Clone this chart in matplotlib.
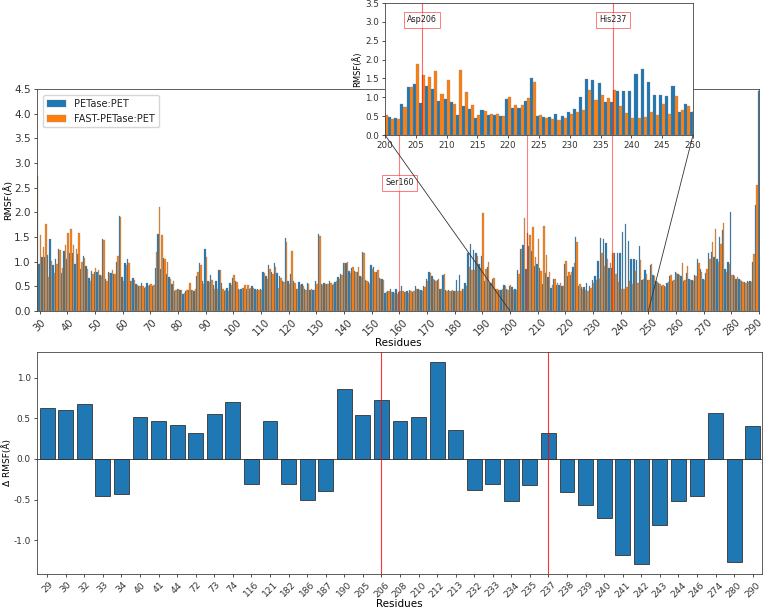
import numpy as np
import matplotlib.pyplot as plt
import matplotlib.transforms as mtransforms
from matplotlib.patches import ConnectionPatch

# RMSF per residue (29..290)
residues = np.arange(29, 291)
petase = [
    2.11,
    0.95, 1.10, 1.10, 1.13, 1.45, 0.93, 1.05, 1.26, 0.78, 1.21,
    1.05, 1.18, 1.18, 0.95, 1.15, 0.85, 1.12, 0.91, 0.67, 0.81,
    0.79, 0.79, 0.72, 1.46, 0.64, 0.80, 0.78, 0.76, 1.00, 1.93,
    0.68, 0.97, 1.05, 0.61, 0.66, 0.55, 0.50, 0.56, 0.46, 0.56,
    0.52, 0.50, 0.87, 1.56, 0.86, 1.08, 0.75, 0.68, 0.55, 0.40,
    0.44, 0.42, 0.35, 0.40, 0.43, 0.43, 0.40, 0.71, 0.97, 0.61,
    1.26, 0.60, 0.73, 0.52, 0.60, 0.83, 0.56, 0.40, 0.46, 0.56,
    0.67, 0.60, 0.44, 0.45, 0.47, 0.44, 0.44, 0.51, 0.45, 0.44,
    0.44, 0.80, 0.70, 0.93, 0.80, 0.97, 0.78, 0.70, 0.60, 1.47,
    0.60, 0.74, 0.60, 0.45, 0.58, 0.55, 0.45, 0.57, 0.42, 0.42,
    0.60, 1.57, 0.55, 0.57, 0.55, 0.60, 0.52, 0.58, 0.68, 0.75,
    0.98, 0.98, 0.82, 0.87, 0.82, 0.80, 0.70, 1.20, 0.62, 0.58,
    0.93, 0.90, 0.80, 0.66, 0.65, 0.36, 0.40, 0.45, 0.38, 0.45,
    0.38, 0.50, 0.38, 0.40, 0.42, 0.38, 0.50, 0.45, 0.42, 0.50,
    0.65, 0.80, 0.70, 0.62, 0.63, 0.45, 0.73, 0.42, 0.42, 0.40,
    0.40, 0.62, 0.72, 0.45, 0.56, 1.17, 1.35, 1.23, 1.18, 0.95,
    1.12, 0.60, 0.90, 0.57, 0.65, 0.45, 0.43, 0.42, 0.52, 0.45,
    0.50, 0.48, 0.45, 0.83, 1.26, 1.34, 0.86, 1.31, 1.22, 0.91,
    0.95, 0.87, 0.54, 0.77, 0.69, 0.46, 0.65, 0.52, 0.52, 0.50,
    0.96, 0.71, 0.72, 0.90, 1.50, 0.51, 0.49, 0.49, 0.57, 0.50,
    0.62, 0.70, 1.02, 1.48, 1.45, 1.38, 0.87, 0.87, 1.17, 1.17,
    1.17, 1.61, 1.76, 1.41, 1.06, 1.06, 1.03, 1.31, 0.62, 0.83,
    0.62, 0.93, 0.73, 0.60, 0.56, 0.50, 0.50, 0.56, 0.70, 0.60,
    0.79, 0.75, 0.70, 0.60, 0.78, 0.65, 0.63, 0.72, 1.05, 0.85,
    0.65, 0.78, 1.17, 1.20, 1.10, 1.05, 1.50, 1.65, 0.85, 1.00,
    2.00, 0.72, 0.65, 0.65, 0.60, 0.58, 0.60, 0.60, 1.00, 2.15,
    4.45,
]
fast_petase = [
    2.73,
    1.55, 1.30, 1.77, 0.68, 1.02, 0.78, 0.95, 1.23, 0.87, 1.33,
    1.58, 1.66, 1.33, 1.25, 1.58, 1.00, 1.07, 0.85, 0.60, 0.75,
    0.87, 0.83, 0.70, 1.44, 0.60, 0.77, 0.84, 0.76, 1.12, 1.90,
    0.61, 0.93, 0.97, 0.61, 0.63, 0.52, 0.50, 0.50, 0.48, 0.50,
    0.55, 0.52, 1.20, 2.11, 1.55, 1.06, 1.00, 0.65, 0.61, 0.42,
    0.45, 0.43, 0.36, 0.42, 0.57, 0.42, 0.45, 0.80, 0.93, 0.55,
    1.10, 0.58, 0.62, 0.45, 0.45, 0.83, 0.45, 0.42, 0.40, 0.53,
    0.72, 0.58, 0.43, 0.46, 0.53, 0.53, 0.47, 0.47, 0.43, 0.42,
    0.42, 0.77, 0.65, 0.86, 0.75, 0.90, 0.47, 0.66, 0.58, 1.40,
    0.55, 1.22, 0.57, 0.45, 0.52, 0.50, 0.43, 0.55, 0.45, 0.42,
    0.55, 1.52, 0.53, 0.55, 0.55, 0.57, 0.55, 0.60, 0.65, 0.72,
    0.98, 1.00, 0.78, 0.90, 0.80, 0.90, 0.68, 1.17, 0.60, 0.55,
    0.85, 0.80, 0.83, 0.65, 0.63, 0.38, 0.40, 0.38, 0.36, 0.35,
    0.40, 0.41, 0.38, 0.37, 0.40, 0.40, 0.45, 0.42, 0.40, 0.48,
    0.60, 0.78, 0.65, 0.60, 0.65, 0.45, 0.75, 0.40, 0.40, 0.42,
    0.40, 0.40, 0.41, 0.45, 0.50, 0.90, 0.84, 0.84, 1.12, 0.88,
    1.98, 0.85, 1.00, 0.57, 0.67, 0.45, 0.43, 0.45, 0.50, 0.43,
    0.52, 0.43, 0.43, 0.75, 1.26, 1.88, 1.58, 1.54, 1.70, 1.09,
    1.45, 0.82, 1.73, 1.13, 0.79, 0.53, 0.64, 0.56, 0.56, 0.50,
    1.01, 0.80, 0.80, 0.97, 1.40, 0.54, 0.45, 0.43, 0.41, 0.46,
    0.57, 0.62, 0.65, 1.18, 0.92, 1.06, 0.97, 1.18, 0.76, 0.59,
    0.45, 0.44, 0.48, 0.60, 0.54, 0.82, 0.57, 1.03, 0.65, 0.76,
    0.63, 0.95, 0.70, 0.58, 0.55, 0.52, 0.48, 0.58, 0.73, 0.62,
    0.78, 0.72, 0.98, 0.62, 0.92, 0.63, 0.60, 0.70, 0.98, 0.80,
    0.62, 0.85, 1.05, 1.40, 1.66, 1.00, 1.35, 1.78, 0.80, 0.95,
    0.73, 0.70, 0.68, 0.62, 0.58, 0.56, 0.58, 0.58, 1.15, 2.55,
    4.85,
]

# delta RMSF (FAST-PETase - PETase) for selected residues
delta_res = ['29', '30', '32', '33', '34', '40', '41', '44', '72', '73', '74',
             '116', '121', '182', '186', '187', '190', '205', '206', '208',
             '210', '212', '213', '232', '233', '234', '235', '237', '238',
             '239', '240', '241', '242', '243', '244', '246', '274', '280', '290']
delta_rmsf = [0.62, 0.60, 0.68, -0.45, -0.43, 0.52, 0.47, 0.42, 0.32, 0.55, 0.70,
              -0.31, 0.47, -0.31, -0.51, -0.39, 0.86, 0.54, 0.73, 0.47,
              0.51, 1.19, 0.36, -0.38, -0.31, -0.52, -0.32, 0.32, -0.41,
              -0.57, -0.72, -1.18, -1.29, -0.81, -0.52, -0.45, 0.56, -1.27, 0.40]

key_sites = {'Ser160': 160, 'Asp206': 206, 'His237': 237}

plt.rcParams['font.size'] = 7.5
plt.rcParams['axes.linewidth'] = 0.6
plt.rcParams['axes.edgecolor'] = '#444444'
plt.rcParams['axes.unicode_minus'] = False
plt.rcParams['xtick.major.width'] = 0.6
plt.rcParams['ytick.major.width'] = 0.6
plt.rcParams['xtick.major.size'] = 2.5
plt.rcParams['ytick.major.size'] = 2.5
plt.rcParams['xtick.major.pad'] = 2
plt.rcParams['ytick.major.pad'] = 2
plt.rcParams['text.color'] = '#222222'
plt.rcParams['xtick.color'] = '#333333'
plt.rcParams['ytick.color'] = '#333333'

W, H, DPI = 766, 609, 100
fig = plt.figure(figsize=(W / DPI, H / DPI), dpi=DPI)

blue = '#1f77b4'
orange = '#ff7f0e'

def draw_bars(ax):
    ax.bar(residues - 0.25, petase, width=0.5, color=blue, edgecolor='grey',
           linewidth=0.2, label='PETase:PET')
    ax.bar(residues + 0.25, fast_petase, width=0.5, color=orange, edgecolor='grey',
           linewidth=0.2, label='FAST-PETase:PET')

# main panel
ax = fig.add_axes([37 / W, 1 - 311 / H, 722 / W, 222 / H])
draw_bars(ax)
ax.set_xlim(29, 290)
ax.set_ylim(0, 4.5)
ax.set_xticks(np.arange(30, 291, 10))
ax.tick_params(axis='x', labelrotation=45, labelsize=7.2)
# keep the last rotated label inside the canvas
last = ax.get_xticklabels()[-1]
last.set_transform(last.get_transform() +
                   mtransforms.ScaledTranslation(-5 / DPI, 0, fig.dpi_scale_trans))
ax.set_xlabel('Residues', labelpad=0)
ax.set_ylabel('RMSF(Å)', fontsize=6.8, labelpad=1)
ax.legend(loc='upper left', fontsize=7.0, borderaxespad=0.6)
for name, r in key_sites.items():
    ax.axvline(r, color='red', lw=0.8, alpha=0.5)
ax.text(160, 2.6, 'Ser160', ha='center', va='center', fontsize=5.8,
        bbox=dict(facecolor='white', edgecolor='red', alpha=0.6, pad=2.5, lw=0.6))

# zoomed inset 200-250
axins = fig.add_axes([385 / W, 1 - 135 / H, 308 / W, 132 / H])
draw_bars(axins)
axins.set_xlim(200, 250)
axins.set_ylim(0, 3.5)
axins.set_xticks(np.arange(200, 251, 5))
axins.tick_params(labelsize=6.3)
axins.set_ylabel('RMSF(Å)', fontsize=6, labelpad=2)
for name in ['Asp206', 'His237']:
    r = key_sites[name]
    axins.axvline(r, color='red', lw=0.8, alpha=0.6)
    axins.text(r, 3.05, name, ha='center', va='center', fontsize=5.8,
               bbox=dict(facecolor='white', edgecolor='red', alpha=0.6, pad=2.5, lw=0.6))
for xr in [200, 250]:
    con = ConnectionPatch(xyA=(xr, 0), coordsA=axins.transData,
                          xyB=(xr, 0), coordsB=ax.transData,
                          color='#333333', lw=0.6)
    fig.add_artist(con)

# delta panel
ax2 = fig.add_axes([37 / W, 1 - 574 / H, 725 / W, 222 / H])
xpos = np.arange(len(delta_res))
ax2.bar(xpos, delta_rmsf, width=0.8, color=blue, edgecolor='#333333', linewidth=0.6)
ax2.set_xticks(xpos)
ax2.set_xticklabels(delta_res, rotation=45)
ax2.tick_params(labelsize=6.6)
ax2.tick_params(axis='y', labelsize=6.4)
ax2.set_xlim(-0.55, len(delta_res) - 0.5)
ax2.axhline(0, color='#333333', lw=0.6)
for name in ['Asp206', 'His237']:
    ax2.axvline(delta_res.index(str(key_sites[name])), color='red', lw=0.8, alpha=0.8)
ax2.set_xlabel('Residues', labelpad=0)
ax2.set_ylabel('Δ RMSF(Å)', fontsize=6.5, labelpad=1)

plt.savefig('out.png', dpi=DPI)
